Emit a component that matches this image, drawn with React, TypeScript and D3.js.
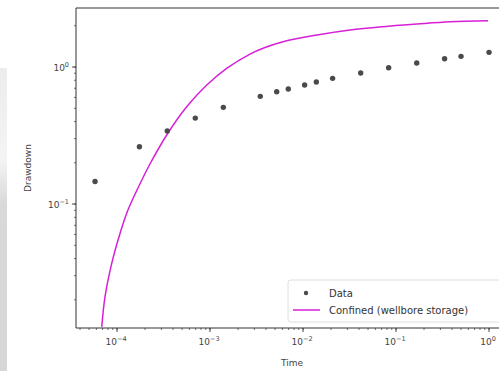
import { useRef, useEffect } from "react";
import * as d3 from "d3";

// observed drawdown (time in days)
const dataTime = [5.8e-5, 1.74e-4, 3.47e-4, 6.94e-4, 1.39e-3, 3.47e-3, 5.21e-3, 6.94e-3, 1.04e-2, 1.39e-2, 2.08e-2, 4.17e-2, 8.33e-2, 0.167, 0.333, 0.5, 1.0];
const dataDrawdown = [0.146, 0.262, 0.341, 0.424, 0.508, 0.611, 0.66, 0.691, 0.739, 0.777, 0.827, 0.904, 0.988, 1.07, 1.15, 1.197, 1.28];

// confined (wellbore storage) model curve
const modelTime = [6.85e-5, 7.43e-5, 8.77e-5, 1.08e-4, 1.31e-4, 1.68e-4, 2.26e-4, 3.53e-4, 5.61e-4, 9.23e-4, 1.51e-3, 2.69e-3, 3.9e-3, 6.1e-3, 1.42e-2, 3.2e-2, 7.24e-2, 0.168, 0.381, 0.975];
const modelDrawdown = [0.0127, 0.0211, 0.0369, 0.0614, 0.0904, 0.131, 0.196, 0.33, 0.513, 0.739, 0.978, 1.244, 1.388, 1.53, 1.713, 1.862, 1.97, 2.06, 2.14, 2.18];

const xMajor = [1e-4, 1e-3, 1e-2, 1e-1, 1];
const xMajorExp = ["−4", "−3", "−2", "−1", "0"];
const yMajor = [1e-1, 1];
const yMajorExp = ["−1", "0"];

const legendItems = ["Data", "Confined (wellbore storage)"];

export default function App() {
  const svgRef = useRef<SVGSVGElement>(null);

  useEffect(() => {
    if (!svgRef.current) return;
    const svg = d3.select(svgRef.current);
    svg.selectAll("*").remove();

    const width = 499;
    const height = 371;
    const left = 76, right = 508, top = 8, bottom = 328;
    const font = "DejaVu Sans, sans-serif";
    const ink = "#333";

    const x = d3.scaleLog().domain([3.62e-5, 1.6]).range([left, right]);
    const y = d3.scaleLog().domain([0.01245, 2.697]).range([bottom, top]);

    svg.append("rect").attr("width", width).attr("height", height).attr("fill", "#fff");

    // grey strip at left edge of the screenshot
    const grad = svg.append("defs").append("linearGradient")
      .attr("id", "strip").attr("x1", 0).attr("y1", 0).attr("x2", 0).attr("y2", 1);
    grad.append("stop").attr("offset", "0").attr("stop-color", "#ececec");
    grad.append("stop").attr("offset", "0.3").attr("stop-color", "#f4f4f4");
    grad.append("stop").attr("offset", "0.45").attr("stop-color", "#d9d9d9");
    grad.append("stop").attr("offset", "1").attr("stop-color", "#d7d7d7");
    svg.append("rect").attr("x", 0).attr("y", 68).attr("width", 7).attr("height", height - 68).attr("fill", "url(#strip)");

    svg.select("defs").append("clipPath").attr("id", "plotclip")
      .append("rect").attr("x", left).attr("y", top).attr("width", right - left).attr("height", bottom - top);

    // model line
    const line = d3.line<number>()
      .x((_, i) => x(modelTime[i]))
      .y(d => y(d))
      .curve(d3.curveCatmullRom.alpha(0.5));
    svg.append("path")
      .datum(modelDrawdown)
      .attr("clip-path", "url(#plotclip)")
      .attr("fill", "none")
      .attr("stroke", "#d81fd8")
      .attr("stroke-width", 1.5)
      .attr("d", line);

    // data points
    svg.append("g").selectAll("circle")
      .data(dataDrawdown)
      .join("circle")
      .attr("cx", (_, i) => x(dataTime[i]))
      .attr("cy", d => y(d))
      .attr("r", 2.7)
      .attr("fill", "#4a4a4a");

    // spines
    svg.append("path")
      .attr("d", `M${left},${bottom}V${top}H${right}M${left},${bottom}H${right}`)
      .attr("fill", "none").attr("stroke", ink).attr("stroke-width", 1);

    // x ticks
    const [x0, x1] = x.domain();
    const xMinor = x.ticks().filter(t => t >= x0 && t <= x1);
    svg.append("g").selectAll("line").data(xMinor).join("line")
      .attr("x1", d => x(d)).attr("x2", d => x(d))
      .attr("y1", bottom).attr("y2", bottom + 2)
      .attr("stroke", ink).attr("stroke-width", 0.7);
    svg.append("g").selectAll("line").data(xMajor).join("line")
      .attr("x1", d => x(d)).attr("x2", d => x(d))
      .attr("y1", bottom).attr("y2", bottom + 4)
      .attr("stroke", ink).attr("stroke-width", 0.9);
    const xl = svg.append("g").selectAll("text").data(xMajor).join("text")
      .attr("x", d => x(d) - 1).attr("y", bottom + 17)
      .attr("text-anchor", "middle")
      .attr("font-family", font).attr("font-size", 9).attr("fill", "#444");
    xl.append("tspan").text("10");
    xl.append("tspan").attr("dy", -4).attr("font-size", 6.5).text((_, i) => xMajorExp[i]);

    // y ticks
    const [y0, y1] = y.domain();
    const yMinor = y.ticks().filter(t => t >= y0 && t <= y1);
    svg.append("g").selectAll("line").data(yMinor).join("line")
      .attr("y1", d => y(d)).attr("y2", d => y(d))
      .attr("x1", left).attr("x2", left - 2)
      .attr("stroke", ink).attr("stroke-width", 0.7);
    svg.append("g").selectAll("line").data(yMajor).join("line")
      .attr("y1", d => y(d)).attr("y2", d => y(d))
      .attr("x1", left).attr("x2", left - 4)
      .attr("stroke", ink).attr("stroke-width", 0.9);
    const yl = svg.append("g").selectAll("text").data(yMajor).join("text")
      .attr("x", left - 7).attr("y", d => y(d) + 4)
      .attr("text-anchor", "end")
      .attr("font-family", font).attr("font-size", 9).attr("fill", "#444");
    yl.append("tspan").text("10");
    yl.append("tspan").attr("dy", -4).attr("font-size", 6.5).text((_, i) => yMajorExp[i]);

    // axis titles
    svg.append("text")
      .attr("x", (left + right) / 2).attr("y", 366)
      .attr("text-anchor", "middle")
      .attr("font-family", font).attr("font-size", 9).attr("fill", "#444")
      .text("Time");
    svg.append("text")
      .attr("transform", `translate(31,${(top + bottom) / 2}) rotate(-90)`)
      .attr("text-anchor", "middle")
      .attr("font-family", font).attr("font-size", 9).attr("fill", "#444")
      .text("Drawdown");

    // legend
    const lg = svg.append("g").attr("transform", "translate(288,280)");
    lg.append("rect")
      .attr("width", 216).attr("height", 42).attr("rx", 3)
      .attr("fill", "#fff").attr("fill-opacity", 0.8)
      .attr("stroke", "#d5d5d5").attr("stroke-width", 0.8);
    lg.append("circle").attr("cx", 18).attr("cy", 13).attr("r", 2.2).attr("fill", "#4a4a4a");
    lg.append("line").attr("x1", 5).attr("x2", 32).attr("y1", 30).attr("y2", 30)
      .attr("stroke", "#d81fd8").attr("stroke-width", 1.5);
    lg.selectAll("text.lab").data(legendItems).join("text")
      .attr("class", "lab")
      .attr("x", 41).attr("y", (_, i) => 16.5 + i * 17)
      .attr("font-family", font).attr("font-size", 10).attr("fill", "#333")
      .text(d => d);
  }, []);

  return (
    <svg
      ref={svgRef}
      width={499}
      height={371}
      style={{ position: "absolute", left: 0, top: 0 }}
    ></svg>
  );
}
